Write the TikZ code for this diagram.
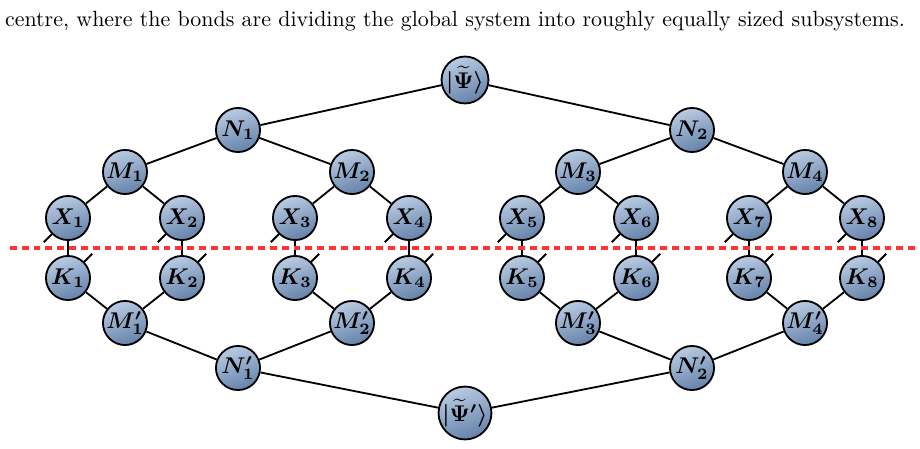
\documentclass[tikz,border=0pt]{standalone}
\usepackage{amsmath,bm}
\begin{document}
\begin{tikzpicture}[x=0.44pt,y=-0.44pt,
  tn/.style={circle,draw=black,thick,minimum size=19.4pt,inner sep=0pt,
    top color={rgb,255:red,185;green,203;blue,226},bottom color={rgb,255:red,100;green,130;blue,170},shading angle=20},
  bond/.style={thick}]
\useasboundingbox (0,0) rectangle (920,449);
\node[scale=0.965] (cap) at (455,21) {centre, where the bonds are dividing the global system into roughly equally sized subsystems.};
\node[tn] (P) at (465,80) {$\bm{|\widetilde{\Psi}\rangle}$};
\node[tn] (Pp) at (465,413) {$\bm{|\widetilde{\Psi}'\rangle}$};
\node[tn] (N1) at (238,130) {$\bm{N_1}$};
\node[tn] (N2) at (692,130) {$\bm{N_2}$};
\node[tn] (Np1) at (238,368) {$\bm{N'_1}$};
\node[tn] (Np2) at (692,368) {$\bm{N'_2}$};
\foreach \i/\x in {1/125,2/352,3/578,4/805}{
  \node[tn] (M\i) at (\x,172) {$\bm{M_\i}$};
  \node[tn] (Mp\i) at (\x,323) {$\bm{M'_\i}$};
}
\foreach \i/\x in {1/68,2/182,3/295,4/409,5/522,6/636,7/749,8/862}{
  \node[tn] (X\i) at (\x,218) {$\bm{X_\i}$};
  \node[tn] (K\i) at (\x,278) {$\bm{K_\i}$};
  \draw[bond] (X\i) -- (K\i);
  \draw[bond] (X\i.225) -- ++(-8,8) coordinate (xs\i);
  \draw[bond] (K\i.45) -- ++(8,-8) coordinate (ks\i);
}
\draw[bond] (P) -- (N1) (P) -- (N2) (Pp) -- (Np1) (Pp) -- (Np2);
\draw[bond] (N1) -- (M1) (N1) -- (M2) (N2) -- (M3) (N2) -- (M4);
\draw[bond] (Np1) -- (Mp1) (Np1) -- (Mp2) (Np2) -- (Mp3) (Np2) -- (Mp4);
\foreach \m/\a/\b in {1/1/2,2/3/4,3/5/6,4/7/8}{
  \draw[bond] (M\m) -- (X\a) (M\m) -- (X\b) (Mp\m) -- (K\a) (Mp\m) -- (K\b);
}
\coordinate (dl) at (10,248); \coordinate (dr) at (915,248);
\draw[red!80!white,line width=1.6pt,dash pattern=on 3pt off 2.2pt] (dl) -- (dr);
\end{tikzpicture}
\end{document}
